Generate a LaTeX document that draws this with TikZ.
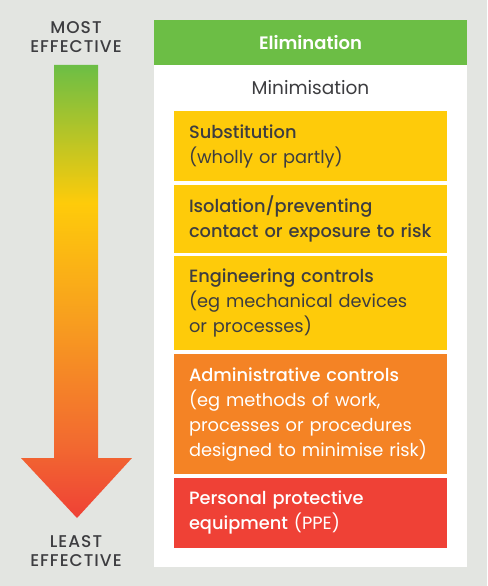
\documentclass[tikz,border=0pt]{standalone}
\usepackage{fontspec}
\setmainfont{Poppins}[BoldFont={Poppins Medium}]
\newfontfamily\headfont{Poppins SemiBold}
\usetikzlibrary{positioning}
\definecolor{bggray}{RGB}{227,229,225}
\definecolor{darktext}{RGB}{61,61,64}
\definecolor{elimgreen}{RGB}{108,190,69}
\definecolor{riskyellow}{RGB}{254,203,10}
\definecolor{riskorange}{RGB}{244,131,37}
\definecolor{riskred}{RGB}{239,65,54}
\definecolor{gradmid}{RGB}{248,160,30}
\definecolor{gradlow}{RGB}{242,106,48}
\pgfdeclareverticalshading{riskgrad}{100bp}{color(0bp)=(riskred); color(25bp)=(riskred); color(33.28bp)=(gradlow); color(47.41bp)=(gradmid); color(59.77bp)=(riskyellow); color(75bp)=(elimgreen); color(100bp)=(elimgreen)}

\begin{document}
\begin{tikzpicture}[x=1pt, y=-1pt, line cap=round, line join=round,
		level/.style={anchor=north, minimum width=273pt, text width=243pt, inner xsep=15pt, inner ysep=0pt, align=left, font=\fontsize{17.8}{25}\selectfont},
		endlabel/.style={align=center, text=darktext, font=\bfseries\fontsize{17}{19}\selectfont\addfontfeature{LetterSpace=6}}]
		\fill[bggray] (0,0) rectangle (487,586);
		\useasboundingbox (0,0) rectangle (487,586);
		\fill[white] (154,20) rectangle (467,567);
		\shade[shading=riskgrad] (54,65) -- (98,65) -- (98,458) -- (132,458) -- (77,518) -- (21,458) -- (54,458) -- cycle;
		\node[endlabel] (most) at (76,37.5) {MOST\\EFFECTIVE};
		\node[endlabel] (least) at (76,551) {LEAST\\EFFECTIVE};
		\node[fill=elimgreen, minimum width=313pt, minimum height=45pt, text=white, font=\headfont\fontsize{18}{20}\selectfont] (elim) at (310.5,42.5) {Elimination};
		\node[text=darktext, font=\fontsize{18.5}{20}\selectfont] (minim) at (310.5,88) {Minimisation};
		\node[level, fill=riskyellow, text=darktext, minimum height=70pt] (subst) at (310.5,111) {\textbf{Substitution}\\(wholly or partly)};
		\node[level, fill=riskyellow, text=darktext, minimum height=68pt, below=3pt of subst] (isol) {\textbf{Isolation/preventing}\\\textbf{contact or exposure to risk}};
		\node[level, fill=riskyellow, text=darktext, minimum height=94pt, below=3pt of isol] (eng) {\textbf{Engineering controls}\\(eg mechanical devices\\or processes)};
		\node[level, fill=riskorange, text=white, minimum height=120pt, below=4pt of eng] (admin) {\textbf{Administrative controls}\\(eg methods of work,\\processes or procedures\\designed to minimise risk)};
		\node[level, fill=riskred, text=white, minimum height=70pt, below=3pt of admin] (ppe) {\textbf{Personal protective}\\\textbf{equipment} (PPE)};
	\end{tikzpicture}
\end{document}
